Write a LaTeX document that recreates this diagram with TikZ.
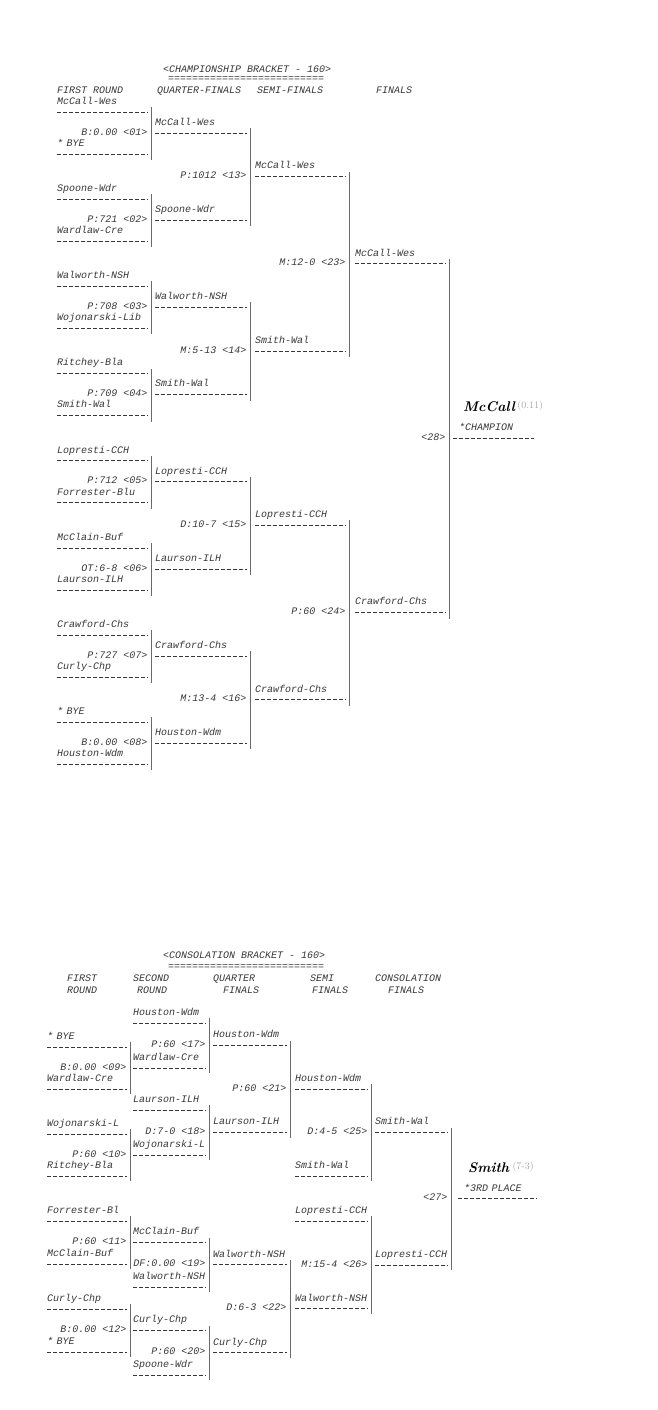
\documentclass[tikz,border=0pt]{standalone}
\usepackage{fontspec}
\usepackage{tikz}
\usetikzlibrary{positioning}
\newfontfamily\brkfont{Liberation Mono}
\definecolor{ink}{gray}{0.22}
\exhyphenpenalty=10000
\hyphenpenalty=10000

\begin{document}
\begin{tikzpicture}[x=1pt,y=-1pt,font=\brkfont\itshape\fontsize{10}{12}\selectfont,text=ink,
slot/.style={anchor=south west,inner xsep=0pt,inner ysep=4.5pt,text depth=3pt,text width=#1,align=left,
  append after command={(\tikzlastnode.south west) edge[dl] (\tikzlastnode.south east)}},
dl/.style={draw=ink,line width=0.8pt,dash pattern=on 4pt off 2pt},
bar/.style={draw=ink!75,line width=0.7pt},
score/.style={anchor=mid east,inner sep=0pt},
head/.style={anchor=mid west,inner sep=0pt},
hand/.style={anchor=mid west,inner sep=0pt,font=\rmfamily\bfseries\itshape\fontsize{14}{14}\selectfont,text=black},
faint/.style={anchor=mid west,inner sep=0pt,font=\rmfamily\fontsize{10}{10}\selectfont,text=black!35}]
\useasboundingbox (0,0) rectangle (658,1410);

\node[head] (t1) at (163,70) {<CHAMPIONSHIP BRACKET - 160>};
\node[head] (e1) at (168,79) {==========================};
\node[head] (h1) at (57,91) {FIRST ROUND};
\node[head] (h2) at (157,91) {QUARTER-FINALS};
\node[head] (h3) at (257,91) {SEMI-FINALS};
\node[head] (h4) at (376,91) {FINALS};

\node[slot=91] (a1) at (57,112) {McCall-Wes};
\node[slot=91] (a2) at (57,154) {* BYE};
\node[score] (m01) at (147.5,133) {B:0.00 <01>};
\node[slot=91] (a3) at (57,199.2) {Spoone-Wdr};
\node[slot=91] (a4) at (57,241.2) {Wardlaw-Cre};
\node[score] (m02) at (147.5,220.2) {P:721 <02>};
\node[slot=91] (a5) at (57,286.4) {Walworth-NSH};
\node[slot=91] (a6) at (57,328.4) {Wojonarski-Lib};
\node[score] (m03) at (147.5,307.4) {P:708 <03>};
\node[slot=91] (a7) at (57,373.6) {Ritchey-Bla};
\node[slot=91] (a8) at (57,415.6) {Smith-Wal};
\node[score] (m04) at (147.5,394.6) {P:709 <04>};
\node[slot=91] (a9) at (57,460.8) {Lopresti-CCH};
\node[slot=91] (a10) at (57,502.8) {Forrester-Blu};
\node[score] (m05) at (147.5,481.8) {P:712 <05>};
\node[slot=91] (a11) at (57,548) {McClain-Buf};
\node[slot=91] (a12) at (57,590) {Laurson-ILH};
\node[score] (m06) at (147.5,569) {OT:6-8 <06>};
\node[slot=91] (a13) at (57,635.2) {Crawford-Chs};
\node[slot=91] (a14) at (57,677.2) {Curly-Chp};
\node[score] (m07) at (147.5,656.2) {P:727 <07>};
\node[slot=91] (a15) at (57,722.4) {* BYE};
\node[slot=91] (a16) at (57,764.4) {Houston-Wdm};
\node[score] (m08) at (147.5,743.4) {B:0.00 <08>};

\node[slot=92] (q1) at (155,133) {McCall-Wes};
\node[slot=92] (q2) at (155,220.2) {Spoone-Wdr};
\node[score] (m13) at (246.5,176.6) {P:1012 <13>};
\node[slot=92] (q3) at (155,307.4) {Walworth-NSH};
\node[slot=92] (q4) at (155,394.6) {Smith-Wal};
\node[score] (m14) at (246.5,351) {M:5-13 <14>};
\node[slot=92] (q5) at (155,481.8) {Lopresti-CCH};
\node[slot=92] (q6) at (155,569) {Laurson-ILH};
\node[score] (m15) at (246.5,525.4) {D:10-7 <15>};
\node[slot=92] (q7) at (155,656.2) {Crawford-Chs};
\node[slot=92] (q8) at (155,743.4) {Houston-Wdm};
\node[score] (m16) at (246.5,699.8) {M:13-4 <16>};

\node[slot=91] (s1) at (255,176.6) {McCall-Wes};
\node[slot=91] (s2) at (255,351) {Smith-Wal};
\node[score] (m23) at (345.5,263.8) {M:12-0 <23>};
\node[slot=91] (s3) at (255,525.4) {Lopresti-CCH};
\node[slot=91] (s4) at (255,699.8) {Crawford-Chs};
\node[score] (m24) at (345.5,612.6) {P:60 <24>};

\node[slot=91] (f1) at (355,263.8) {McCall-Wes};
\node[slot=91] (f2) at (355,612.6) {Crawford-Chs};
\node[score] (m28) at (445.5,438.2) {<28>};
\node[slot=81] (champ) at (453,438.2) {\hspace*{6pt}*CHAMPION};
\node[hand] (hw1) at (463,409) {McCall};
\node[faint,right=2pt of hw1] (hw2) {(0.11)};

\draw[bar] ([xshift=3pt,yshift=5pt]a1.south east) -- ([xshift=3pt,yshift=-6pt]a2.south east);
\draw[bar] ([xshift=3pt,yshift=5pt]a3.south east) -- ([xshift=3pt,yshift=-6pt]a4.south east);
\draw[bar] ([xshift=3pt,yshift=5pt]a5.south east) -- ([xshift=3pt,yshift=-6pt]a6.south east);
\draw[bar] ([xshift=3pt,yshift=5pt]a7.south east) -- ([xshift=3pt,yshift=-6pt]a8.south east);
\draw[bar] ([xshift=3pt,yshift=5pt]a9.south east) -- ([xshift=3pt,yshift=-6pt]a10.south east);
\draw[bar] ([xshift=3pt,yshift=5pt]a11.south east) -- ([xshift=3pt,yshift=-6pt]a12.south east);
\draw[bar] ([xshift=3pt,yshift=5pt]a13.south east) -- ([xshift=3pt,yshift=-6pt]a14.south east);
\draw[bar] ([xshift=3pt,yshift=5pt]a15.south east) -- ([xshift=3pt,yshift=-6pt]a16.south east);
\draw[bar] ([xshift=3pt,yshift=5pt]q1.south east) -- ([xshift=3pt,yshift=-6pt]q2.south east);
\draw[bar] ([xshift=3pt,yshift=5pt]q3.south east) -- ([xshift=3pt,yshift=-6pt]q4.south east);
\draw[bar] ([xshift=3pt,yshift=5pt]q5.south east) -- ([xshift=3pt,yshift=-6pt]q6.south east);
\draw[bar] ([xshift=3pt,yshift=5pt]q7.south east) -- ([xshift=3pt,yshift=-6pt]q8.south east);
\draw[bar] ([xshift=3pt,yshift=5pt]s1.south east) -- ([xshift=3pt,yshift=-6pt]s2.south east);
\draw[bar] ([xshift=3pt,yshift=5pt]s3.south east) -- ([xshift=3pt,yshift=-6pt]s4.south east);
\draw[bar] ([xshift=3pt,yshift=5pt]f1.south east) -- ([xshift=3pt,yshift=-6pt]f2.south east);

\node[head] (t2) at (163,956) {<CONSOLATION BRACKET - 160>};
\node[head] (e2) at (168,967) {==========================};
\node[head] (k1) at (67,979) {FIRST};
\node[head] (k2) at (67,991) {ROUND};
\node[head] (k3) at (133,979) {SECOND};
\node[head] (k4) at (137,991) {ROUND};
\node[head] (k5) at (213,979) {QUARTER};
\node[head] (k6) at (223,991) {FINALS};
\node[head] (k7) at (310,979) {SEMI};
\node[head] (k8) at (312,991) {FINALS};
\node[head] (k9) at (375,979) {CONSOLATION};
\node[head] (k10) at (388,991) {FINALS};

\node[slot=80] (b1) at (47,1047) {* BYE};
\node[slot=80] (b2) at (47,1089) {Wardlaw-Cre};
\node[score] (n09) at (126.5,1068) {B:0.00 <09>};
\node[slot=80] (b3) at (47,1134) {Wojonarski-L};
\node[slot=80] (b4) at (47,1176) {Ritchey-Bla};
\node[score] (n10) at (126.5,1155) {P:60 <10>};
\node[slot=80] (b5) at (47,1221) {Forrester-Bl};
\node[slot=80] (b6) at (47,1264) {McClain-Buf};
\node[score] (n11) at (126.5,1242.5) {P:60 <11>};
\node[slot=80] (b7) at (47,1309) {Curly-Chp};
\node[slot=80] (b8) at (47,1352) {* BYE};
\node[score] (n12) at (126.5,1330.5) {B:0.00 <12>};

\node[slot=73] (r1) at (133,1023) {Houston-Wdm};
\node[slot=73] (r2) at (133,1068) {Wardlaw-Cre};
\node[score] (n17) at (205.5,1045.5) {P:60 <17>};
\node[slot=73] (r3) at (133,1110) {Laurson-ILH};
\node[slot=73] (r4) at (133,1155) {Wojonarski-L};
\node[score] (n18) at (205.5,1132.5) {D:7-0 <18>};
\node[slot=73] (r5) at (133,1242.5) {McClain-Buf};
\node[slot=73] (r6) at (133,1287) {Walworth-NSH};
\node[score] (n19) at (205.5,1264.75) {DF:0.00 <19>};
\node[slot=73] (r7) at (133,1330.5) {Curly-Chp};
\node[slot=73] (r8) at (133,1375) {Spoone-Wdr};
\node[score] (n20) at (205.5,1352.75) {P:60 <20>};

\node[slot=74] (u1) at (213,1045.5) {Houston-Wdm};
\node[slot=74] (u2) at (213,1132.5) {Laurson-ILH};
\node[score] (n21) at (286.5,1089) {P:60 <21>};
\node[slot=74] (u3) at (213,1264.75) {Walworth-NSH};
\node[slot=74] (u4) at (213,1352.75) {Curly-Chp};
\node[score] (n22) at (286.5,1308.75) {D:6-3 <22>};

\node[slot=73] (v1) at (295,1089) {Houston-Wdm};
\node[slot=73] (v2) at (295,1176) {Smith-Wal};
\node[score] (n25) at (367.5,1132.5) {D:4-5 <25>};
\node[slot=73] (v3) at (295,1221) {Lopresti-CCH};
\node[slot=73] (v4) at (295,1308.75) {Walworth-NSH};
\node[score] (n26) at (367.5,1264.9) {M:15-4 <26>};

\node[slot=73] (w1) at (375,1132.5) {Smith-Wal};
\node[slot=73] (w2) at (375,1264.9) {Lopresti-CCH};
\node[score] (n27) at (447.5,1198.7) {<27>};
\node[slot=79] (third) at (458,1198.7) {\hspace*{6pt}*3RD PLACE};
\node[hand] (hw3) at (468,1170) {Smith};
\node[faint,right=3pt of hw3] (hw4) {(7-3)};

\draw[bar] ([xshift=3pt,yshift=5pt]b1.south east) -- ([xshift=3pt,yshift=-5pt]b2.south east);
\draw[bar] ([xshift=3pt,yshift=5pt]b3.south east) -- ([xshift=3pt,yshift=-5pt]b4.south east);
\draw[bar] ([xshift=3pt,yshift=5pt]b5.south east) -- ([xshift=3pt,yshift=-5pt]b6.south east);
\draw[bar] ([xshift=3pt,yshift=5pt]b7.south east) -- ([xshift=3pt,yshift=-5pt]b8.south east);
\draw[bar] ([xshift=3pt,yshift=5pt]r1.south east) -- ([xshift=3pt,yshift=-5pt]r2.south east);
\draw[bar] ([xshift=3pt,yshift=5pt]r3.south east) -- ([xshift=3pt,yshift=-5pt]r4.south east);
\draw[bar] ([xshift=3pt,yshift=5pt]r5.south east) -- ([xshift=3pt,yshift=-5pt]r6.south east);
\draw[bar] ([xshift=3pt,yshift=5pt]r7.south east) -- ([xshift=3pt,yshift=-5pt]r8.south east);
\draw[bar] ([xshift=3pt,yshift=5pt]u1.south east) -- ([xshift=3pt,yshift=-5pt]u2.south east);
\draw[bar] ([xshift=3pt,yshift=5pt]u3.south east) -- ([xshift=3pt,yshift=-5pt]u4.south east);
\draw[bar] ([xshift=3pt,yshift=5pt]v1.south east) -- ([xshift=3pt,yshift=-5pt]v2.south east);
\draw[bar] ([xshift=3pt,yshift=5pt]v3.south east) -- ([xshift=3pt,yshift=-5pt]v4.south east);
\draw[bar] ([xshift=3pt,yshift=5pt]w1.south east) -- ([xshift=3pt,yshift=-5pt]w2.south east);
\end{tikzpicture}
\end{document}
